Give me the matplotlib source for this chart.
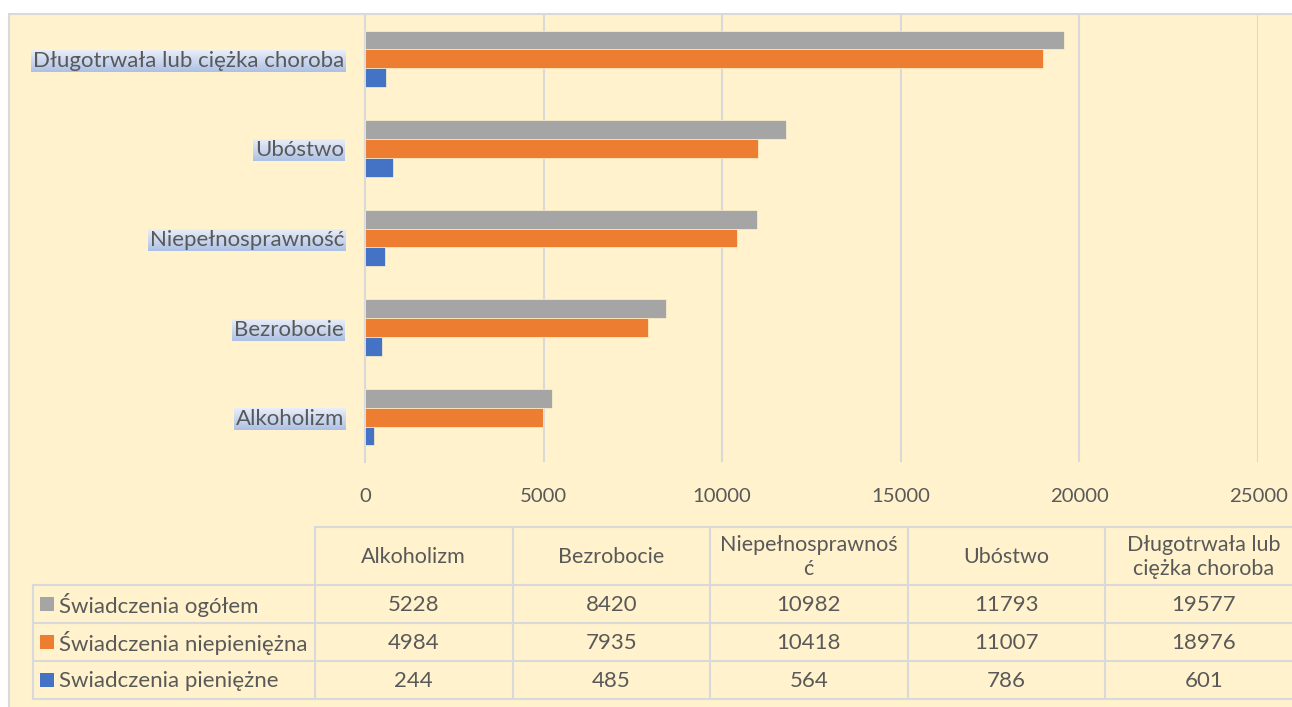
import numpy as np
import matplotlib.pyplot as plt
from matplotlib.colors import LinearSegmentedColormap

plt.rcParams['font.family'] = ['Lato', 'DejaVu Sans']

# data
categories = ['Alkoholizm', 'Bezrobocie', 'Niepełnosprawność', 'Ubóstwo', 'Długotrwała lub ciężka choroba']
header_labels = ['Alkoholizm', 'Bezrobocie', 'Niepełnosprawnoś\nć', 'Ubóstwo', 'Długotrwała lub\nciężka choroba']
series_names = ['Świadczenia ogółem', 'Świadczenia niepieniężna', 'Swiadczenia pieniężne']
ogolem = [5228, 8420, 10982, 11793, 19577]
niepieniezna = [4984, 7935, 10418, 11007, 18976]
pieniezne = [244, 485, 564, 786, 601]
series = [ogolem, niepieniezna, pieniezne]
colors = ['#A5A5A5', '#ED7D31', '#4472C4']

bg = '#FFF2CC'
txt = '#595959'
grid = '#D9D9D9'
W, H = 1292, 707

fig = plt.figure(figsize=(W / 100, H / 100), dpi=100, facecolor='white')

# background axes in pixel coords: chart area, border, data table
bgax = fig.add_axes([0, 0, 1, 1], zorder=0)
bgax.set_xlim(0, W)
bgax.set_ylim(H, 0)
bgax.axis('off')
bgax.add_patch(plt.Rectangle((9, 14), W, H, facecolor=bg, edgecolor=grid, lw=1.5))

# main bar chart
ax = fig.add_axes([365 / W, (H - 462) / H, (1258 - 365) / W, (462 - 14) / H], zorder=1)
ax.set_facecolor('none')
y = np.arange(len(categories))
h = 0.21
offsets = [h, 0, -h]
for vals, off, c in zip(series, offsets, colors):
    ax.barh(y + off, vals, height=h, color=c, edgecolor=bg, linewidth=0.5, zorder=3)

ax.set_xlim(0, 25000)
ax.set_ylim(-0.5, len(categories) - 0.5)
ax.set_xticks(np.arange(0, 25001, 5000))
ax.set_yticks(y)
ax.set_yticklabels(categories)
ax.grid(axis='x', color=grid, lw=1.5, zorder=0)
for s in ['top', 'right', 'bottom']:
    ax.spines[s].set_visible(False)
ax.spines['left'].set_color(grid)
ax.spines['left'].set_linewidth(1.5)
ax.tick_params(axis='both', length=0, colors=txt)
ax.tick_params(axis='x', labelsize=14.6, pad=19)
ax.tick_params(axis='y', labelsize=16, pad=15)
for lab in ax.get_yticklabels():
    lab.set_va('center_baseline')

# gradient highlight behind category labels
fig.canvas.draw()
grad = LinearSegmentedColormap.from_list('g', ['#E9EEF8', '#ADC1E5'])
r = fig.canvas.get_renderer()
for lab in ax.get_yticklabels():
    bb = lab.get_window_extent(r)
    x0, x1 = bb.x0 - 2, bb.x1 + 1
    yt, yb = H - bb.y1 - 1, H - bb.y0 + 1
    bgax.imshow(np.linspace(0, 1, 50).reshape(-1, 1), cmap=grad, aspect='auto',
                extent=(x0, x1, yb, yt), zorder=2)
bgax.set_xlim(0, W)
bgax.set_ylim(H, 0)

# data table
col_edges = [315 + 197.5 * k for k in range(6)]
row_edges = [527, 585, 623, 661, 699]
left = 33
lc = grid
lw = 1.5
bgax.plot([col_edges[0], W], [row_edges[0]] * 2, color=lc, lw=lw)
for ry in row_edges[1:]:
    bgax.plot([left, W], [ry, ry], color=lc, lw=lw)
bgax.plot([left, left], [row_edges[1], row_edges[-1]], color=lc, lw=lw)
for cx in col_edges:
    bgax.plot([cx, cx], [row_edges[0], row_edges[-1]], color=lc, lw=lw)

for j, lab in enumerate(header_labels):
    cx = (col_edges[j] + col_edges[j + 1]) / 2
    bgax.text(cx, (row_edges[0] + row_edges[1]) / 2 + 1, lab, ha='center', va='center',
              fontsize=15.5, color=txt, linespacing=1.2)

for i, (name, vals, c) in enumerate(zip(series_names, series, colors)):
    cy = (row_edges[i + 1] + row_edges[i + 2]) / 2
    bgax.add_patch(plt.Rectangle((40, cy - 7), 14, 14, facecolor=c, edgecolor='none'))
    bgax.text(59, cy + 1, name, ha='left', va='center', fontsize=16, color=txt)
    for j, v in enumerate(vals):
        cx = (col_edges[j] + col_edges[j + 1]) / 2
        bgax.text(cx, cy + 1, str(v), ha='center', va='center', fontsize=16, color=txt)

fig.savefig('out.png', dpi=100, facecolor='white')
